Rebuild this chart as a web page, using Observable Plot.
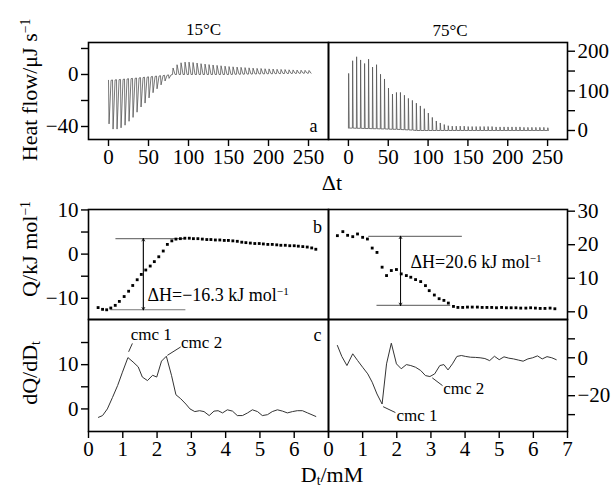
<!DOCTYPE html>
<html><head><meta charset="utf-8">
<script src="https://cdn.jsdelivr.net/npm/d3@7"></script>
<script src="https://cdn.jsdelivr.net/npm/@observablehq/plot@0.6"></script>
<style>
body{margin:0;background:#fff;}
#fig{position:relative;width:612px;height:487px;overflow:hidden;font-family:"Liberation Serif","Times New Roman",serif;}
.ttl sup{font-size:0.62em;vertical-align:0.55em;line-height:0;}
.ttl sub{font-size:0.62em;vertical-align:-0.25em;line-height:0;}
</style></head><body><div id="fig"></div>
<script>
// ---------- (a) raw ITC traces: injection times, baselines and peak heights ----------
const tInj = [0,5,10,15,20,25,30,35,40,45,50,55,60,65,70,75,80,85,90,95,100,105,110,115,120,125,130,135,140,145,150,155,160,165,170,175,180,185,190,195,200,205,210,215,220,225,230,235,240,245,250];
const base15 = [-4.5,-4.2,-4,-3.8,-3.5,-3.2,-3,-2.7,-2.4,-2.1,-1.8,-1.5,-1.2,-0.9,-0.6,-0.3,
  0,0,0,0,0,0,0,0,0,0,0,0,0,0,0,
  0.1,0.2,0.2,0.3,0.3,0.4,0.4,0.5,0.5,0.6,0.6,0.7,0.7,0.8,0.8,0.9,0.9,1.0,1.0,1.0];
const peak15 = [-38,-42,-42,-41,-39,-36,-33,-29,-25,-22,-18,-14,-11,-8,-5,-3,
  5,7.5,9,9.5,9.5,9.2,8.8,8.3,8.0,7.6,7.3,7.0,6.7,6.4,6.1,5.9,5.7,5.5,5.3,5.1,4.9,4.7,4.6,4.4,4.3,4.2,4.0,3.9,3.8,3.6,3.5,3.4,3.3,3.2,3.1];
const base75 = [6,6,5.5,5.5,5,5,4.5,4.5,4,4,3.5,3,3,2.5,2,1.5,1,
  0,0,0,0,0,0,0,0,0,0,0,0,0,0,0,0,0,0,0,0,0,0,0,0,0,0,0,0,0,0,0,0,0,0];
const peak75 = [144,176,186,178,169,180,160,166,142,130,107,92,96,96,89,81,76,69,62,55,44,33,24,19,15,
  12,11,11,11,11,10,10,10,10,10,10,10,9,9,9,9,9,9,9,8,8,8,8,8,8,7];
const tTicks = [0,50,100,150,200,250];

// ---------- (b) integrated heats ----------
const dL = [0.28,0.41,0.53,0.65,0.78,0.90,1.04,1.17,1.29,1.42,1.54,1.67,1.80,1.92,2.05,2.18,2.30,2.43,2.55,2.68,
  2.81,2.94,3.06,3.19,3.32,3.45,3.57,3.70,3.83,3.96,4.08,4.21,4.34,4.47,4.59,4.72,4.85,4.98,5.10,5.23,5.36,5.49,5.61,5.74,5.87,6.00,6.12,6.25,6.38,6.51,6.63];
const qL = [-12.1,-12.5,-12.6,-12.2,-11.6,-10.7,-9.6,-8.4,-7.1,-5.8,-4.6,-3.6,-2.7,-1.7,-0.6,0.7,2.2,3.0,3.4,3.5,
  3.6,3.6,3.5,3.5,3.4,3.3,3.3,3.2,3.2,3.1,3.1,3.0,2.9,2.7,2.6,2.5,2.4,2.4,2.3,2.2,2.2,2.1,2.0,2.0,1.9,1.9,1.8,1.7,1.6,1.4,1.1];
const dR = [0.26,0.42,0.56,0.71,0.85,1.00,1.14,1.28,1.42,1.57,1.70,1.84,1.99,2.13,2.28,2.41,2.55,2.70,2.84,2.95,3.10,3.24,3.38,3.51,3.66,3.79,
  3.93,4.07,4.21,4.36,4.50,4.64,4.78,4.92,5.07,5.21,5.35,5.49,5.63,5.78,5.92,6.06,6.20,6.34,6.49,6.63];
const qR = [22.7,23.9,22.8,22.4,23.2,22.2,21.7,19.0,17.7,13.3,10.8,12.3,12.6,11.3,10.8,10.3,9.6,9.0,7.8,6.3,5.0,3.9,3.4,2.6,1.6,1.3,
  1.3,1.4,1.4,1.4,1.3,1.3,1.3,1.2,1.3,1.2,1.2,1.2,1.1,1.1,1.2,1.1,1.0,1.0,1.1,0.9];
const refL = [{x1:0.80,x2:2.84,y:3.5},{x1:0.65,x2:2.84,y:-12.6}];
const arrL = [{x:1.60,lo:-12.6,hi:3.5}];
const refR = [{x1:1.18,x2:3.92,y:22.5},{x1:1.42,x2:3.58,y:1.9}];
const arrR = [{x:2.11,lo:1.9,hi:22.5}];
const dhL = [{x:1.72,y:-9.4,label:"ΔH=−16.3 kJ mol^−1"}];
const dhR = [{x:2.40,y:14.7,label:"ΔH=20.6 kJ mol^−1"}];

// ---------- (c) derivatives ----------
const cdL = [0.29,0.41,0.55,0.70,0.85,0.99,1.15,1.30,1.45,1.57,1.72,1.87,1.99,2.13,2.27,2.42,2.55,2.69,2.84,2.96,3.10,3.24,3.37,3.52,3.66,3.78,3.91,4.05,4.20,4.34,4.49,4.64,4.78,4.93,5.07,5.22,5.36,5.51,5.66,5.80,5.95,6.09,6.24,6.39,6.63];
const cvL = [-1.9,-1.5,0,2.6,5.3,8.3,11.6,10.6,9.5,7.2,6.4,7.6,7.2,10.8,11.9,7.6,3.2,2.3,1.1,0,-0.6,-0.4,-0.6,-1.5,-0.5,-0.4,-0.9,-0.2,-0.5,-1.5,-1.5,-0.9,-0.2,-0.6,-1.5,-1.3,-0.6,-0.2,-0.5,-0.9,-0.6,-0.4,-0.4,-0.9,-1.7];
const cdR = [0.26,0.39,0.54,0.71,0.85,1.00,1.15,1.28,1.42,1.57,1.70,1.84,1.99,2.13,2.28,2.41,2.55,2.70,2.84,2.97,3.11,3.26,3.38,3.50,3.63,3.76,3.89,4.02,4.16,4.30,4.44,4.58,4.72,4.86,5.00,5.14,5.28,5.42,5.56,5.70,5.84,5.98,6.12,6.26,6.40,6.54,6.67];
const cvR = [6.5,0.7,-4.1,2.1,-1.4,-5.0,-8.5,-12.9,-19.1,-24.4,-3.2,7.7,-3.2,-5.8,-3.6,-4.1,-5.0,-6.7,-9.4,-9.9,-8.5,-4.1,-3.6,-6.4,-3.2,0.7,1.2,0.7,0.3,0.2,0.0,-0.4,-1.5,0.8,-1.0,0.5,-0.2,-0.6,-1.2,-1.8,-0.6,0.0,1.0,-0.6,0.6,0.0,-1.0];
const cmcL = [{x1:1.17,y1:12.9,x2:1.28,y2:14.8,tx:1.23,ty:16.7,label:"cmc 1"},{x1:2.30,y1:12.1,x2:2.69,y2:14.0,tx:2.70,ty:14.9,label:"cmc 2"}];
const cmcR = [{x1:1.60,y1:-25.8,x2:1.96,y2:-28.9,tx:1.99,ty:-30.6,label:"cmc 1"},{x1:3.04,y1:-10.6,x2:3.34,y2:-14.7,tx:3.36,ty:-16.4,label:"cmc 2"}];
const dTicks = [0,1,2,3,4,5,6,7];

// ---------- helpers ----------
const FONT = '"Liberation Serif","Times New Roman",serif';
const fig = document.getElementById("fig");
const fmt = d => (d < 0 ? "\u2212" + Math.abs(d) : String(d));
const only = list => d => (list.includes(d) ? fmt(d) : "");
const M = {top: 30, bottom: 40, side: 70};

function spikes(ts, base, peak, w1, w2) {
  const pts = [];
  ts.forEach((t, i) => {
    pts.push({t, q: base[i]});
    pts.push({t: t + w1, q: peak[i]});
    pts.push({t: t + w2, q: base[i]});
  });
  return pts;
}
const tr15 = spikes(tInj, base15, peak15, 0.7, 3.2);
const tr75 = spikes(tInj, base75, peak75, 0.3, 1.0);
const ptsL = dL.map((d, i) => ({d, q: qL[i]}));
const ptsR = dR.map((d, i) => ({d, q: qR[i]}));
const lnL = cdL.map((d, i) => ({d, v: cvL[i]}));
const lnR = cdR.map((d, i) => ({d, v: cvR[i]}));

function supify(svg) {
  d3.select(svg).selectAll("text").each(function () {
    const s = this.textContent;
    const i = s.indexOf("^");
    if (i < 0) return;
    const el = d3.select(this);
    el.text(null);
    el.append("tspan").text(s.slice(0, i));
    el.append("tspan").attr("dy", "-0.55em").attr("font-size", "0.62em").text(s.slice(i + 1));
  });
}

function panel({x0, x1, y0, y1, xDomain, yDomain, xAxis = true, marks}) {
  const svg = Plot.plot({
    width: (x1 - x0) + 2 * M.side,
    height: (y1 - y0) + M.top + M.bottom,
    marginLeft: M.side, marginRight: M.side, marginTop: M.top, marginBottom: M.bottom,
    x: {domain: xDomain, label: null, ...(xAxis ? {} : {axis: null})},
    y: {domain: yDomain, label: null},
    style: `background:transparent;overflow:visible;font-family:${FONT};font-size:21px;color:black;max-width:none;`,
    marks
  });
  svg.style.position = "absolute";
  svg.style.left = (x0 - M.side) + "px";
  svg.style.top = (y0 - M.top) + "px";
  supify(svg);
  fig.appendChild(svg);
  return svg;
}
const frame = () => Plot.frame({stroke: "black", strokeWidth: 1.6});
const ax = (opts) => ({tickSize: 7, tickPadding: 3, strokeWidth: 1.4, label: null, ...opts});

const X0 = 88, XM = 328, X1 = 567;

// (a) 15 °C
panel({x0: X0, x1: XM, y0: 42, y1: 139, xDomain: [-25, 275], yDomain: [-50, 24.6], marks: [
  Plot.line(tr15, {x: "t", y: "q", stroke: "#555", strokeWidth: 0.8}),
  frame(),
  Plot.axisX(ax({ticks: tTicks, tickFormat: fmt})),
  Plot.axisY(ax({ticks: [-40, -20, 0, 20], tickFormat: only([-40, 0])})),
  Plot.text(["15°C"], {frameAnchor: "top", lineAnchor: "middle", dy: -13, dx: -5, fontSize: 17}),
  Plot.text(["a"], {frameAnchor: "bottom-right", lineAnchor: "middle", textAnchor: "middle", dx: -15, dy: -13, fontSize: 18})
]});
// (a) 75 °C
panel({x0: XM, x1: X1, y0: 42, y1: 139, xDomain: [-25, 275], yDomain: [-22.7, 222], marks: [
  Plot.line(tr75, {x: "t", y: "q", stroke: "#555", strokeWidth: 0.8}),
  frame(),
  Plot.axisX(ax({ticks: tTicks, tickFormat: fmt})),
  Plot.axisY(ax({anchor: "right", ticks: [0, 50, 100, 150, 200], tickFormat: only([0, 100, 200])})),
  Plot.text(["75°C"], {frameAnchor: "top", lineAnchor: "middle", dy: -12, dx: 2, fontSize: 17})
]});
// (b) left
panel({x0: X0, x1: XM, y0: 209, y1: 319, xDomain: [0, 7], yDomain: [-14.8, 10.1], xAxis: false, marks: [
  Plot.ruleY(refL, {x1: "x1", x2: "x2", y: "y", stroke: "#777", strokeWidth: 1.1}),
  Plot.arrow(arrL, {x1: "x", x2: "x", y1: "lo", y2: "hi", headLength: 5, strokeWidth: 0.8, stroke: "black"}),
  Plot.arrow(arrL, {x1: "x", x2: "x", y1: "hi", y2: "lo", headLength: 5, strokeWidth: 0.8, stroke: "black"}),
  Plot.dot(ptsL, {x: "d", y: "q", symbol: "square", r: 1.6, fill: "black", stroke: null}),
  Plot.text(dhL, {x: "x", y: "y", text: "label", textAnchor: "start", fontSize: 18}),
  frame(),
  Plot.axisY(ax({ticks: [-10, -5, 0, 5, 10], tickFormat: only([-10, 0, 10])})),
  Plot.text(["b"], {frameAnchor: "top-right", lineAnchor: "middle", textAnchor: "middle", dx: -11, dy: 18, fontSize: 18})
]});
// (b) right
panel({x0: XM, x1: X1, y0: 209, y1: 319, xDomain: [0, 7], yDomain: [-2.3, 30.5], xAxis: false, marks: [
  Plot.ruleY(refR, {x1: "x1", x2: "x2", y: "y", stroke: "#777", strokeWidth: 1.1}),
  Plot.arrow(arrR, {x1: "x", x2: "x", y1: "lo", y2: "hi", headLength: 5, strokeWidth: 0.8, stroke: "black"}),
  Plot.arrow(arrR, {x1: "x", x2: "x", y1: "hi", y2: "lo", headLength: 5, strokeWidth: 0.8, stroke: "black"}),
  Plot.dot(ptsR, {x: "d", y: "q", symbol: "square", r: 1.6, fill: "black", stroke: null}),
  Plot.text(dhR, {x: "x", y: "y", text: "label", textAnchor: "start", fontSize: 18}),
  frame(),
  Plot.axisY(ax({anchor: "right", ticks: [0, 10, 20, 30], tickFormat: fmt}))
]});
// (c) left
panel({x0: X0, x1: XM, y0: 319, y1: 431, xDomain: [0, 7], yDomain: [-5.1, 20.2], marks: [
  Plot.line(lnL, {x: "d", y: "v", stroke: "#333", strokeWidth: 1}),
  Plot.link(cmcL, {x1: "x1", y1: "y1", x2: "x2", y2: "y2", stroke: "black", strokeWidth: 0.8}),
  Plot.text(cmcL, {x: "tx", y: "ty", text: "label", textAnchor: "start", fontSize: 17}),
  frame(),
  Plot.axisX(ax({ticks: dTicks, tickFormat: only([0, 1, 2, 3, 4, 5, 6])})),
  Plot.axisY(ax({ticks: [0, 5, 10, 15], tickFormat: only([0, 10])})),
  Plot.text(["c"], {frameAnchor: "top-right", lineAnchor: "middle", textAnchor: "middle", dx: -11, dy: 16, fontSize: 18})
]});
// (c) right
panel({x0: XM, x1: X1, y0: 319, y1: 431, xDomain: [0, 7], yDomain: [-38.9, 20.2], marks: [
  Plot.line(lnR, {x: "d", y: "v", stroke: "#333", strokeWidth: 1}),
  Plot.link(cmcR, {x1: "x1", y1: "y1", x2: "x2", y2: "y2", stroke: "black", strokeWidth: 0.8}),
  Plot.text(cmcR, {x: "tx", y: "ty", text: "label", textAnchor: "start", fontSize: 17}),
  frame(),
  Plot.axisX(ax({ticks: dTicks, tickFormat: fmt})),
  Plot.axisY(ax({anchor: "right", ticks: [10, 0, -10, -20, -30], tickFormat: only([0, -20])}))
]});

// axis titles
function title(html, cx, cy, rot, size) {
  const d = document.createElement("div");
  d.className = "ttl";
  d.innerHTML = html;
  d.style.cssText = `position:absolute;left:${cx}px;top:${cy}px;transform:translate(-50%,-50%)${rot ? " rotate(-90deg)" : ""};font-family:${FONT};font-size:${size}px;white-space:nowrap;line-height:1;`;
  fig.appendChild(d);
}
title("Heat flow/μJ s<sup>−1</sup>", 30, 90, true, 22);
title("Q/kJ mol<sup>−1</sup>", 30, 249, true, 22);
title("dQ/dD<sub>t</sub>", 30, 373, true, 22);
title("Δt", 332, 183, false, 22);
title("D<sub>t</sub>/mM", 332, 475, false, 22);
</script></body></html>
